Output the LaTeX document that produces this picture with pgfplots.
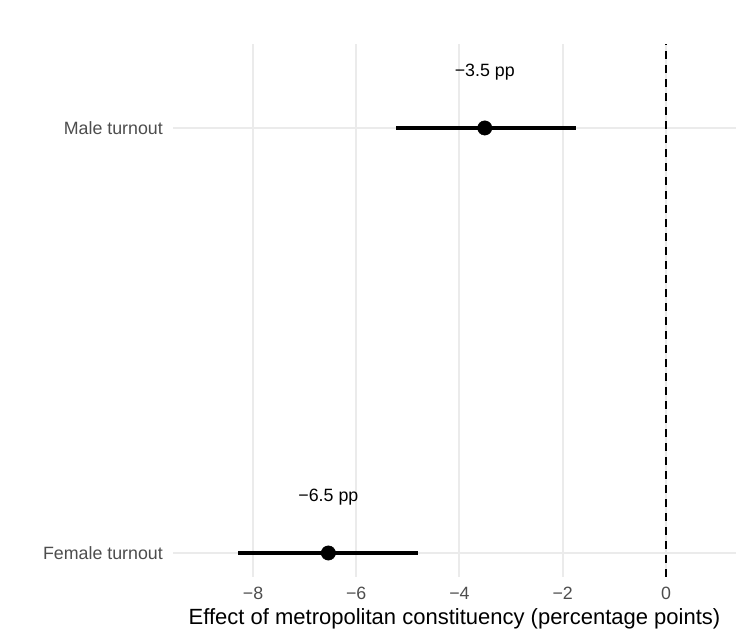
\documentclass[border=0pt]{standalone}
\usepackage{pgfplots}
\pgfplotsset{compat=1.18}
\usepackage{fontspec}
\setmainfont{Liberation Sans}
\definecolor{gridgray}{HTML}{EBEBEB}
\definecolor{ticktext}{HTML}{4D4D4D}
\begin{document}
\begin{tikzpicture}[x=1bp,y=1bp]
\useasboundingbox (0,0) rectangle (736,631);
\begin{axis}[
  at={(173bp,54bp)}, anchor=south west,
  scale only axis, width=563bp, height=533bp,
  xmin=-9.55, xmax=1.357, ymin=0.9435, ymax=2.1976,
  axis line style={draw=none},
  tick style={draw=none},
  xtick={-8,-6,-4,-2,0},
  xticklabels={−8,−6,−4,−2,0},
  ytick={1,2},
  yticklabels={Female turnout, Male turnout},
  grid=major,
  major grid style={gridgray, line width=2bp},
  xticklabel style={font=\fontsize{17.8bp}{20bp}\selectfont, text=ticktext, anchor=north, inner sep=0pt, yshift=-10bp},
  yticklabel style={font=\fontsize{17.8bp}{20bp}\selectfont, text=ticktext, anchor=east, inner sep=0pt, xshift=-10bp},
  xlabel={Effect of metropolitan constituency (percentage points)},
  xlabel style={font=\fontsize{22bp}{24bp}\selectfont, text=black, at={(axis description cs:0.5,0)}, anchor=base, inner sep=0pt, yshift=-48bp},
  clip=false,
]
\addplot[black, line width=4.3bp] coordinates {(-5.23,2) (-1.74,2)};
\addplot[black, line width=4.3bp] coordinates {(-8.29,1) (-4.81,1)};
\addplot[only marks, mark=*, mark size=7.2bp, black] coordinates {(-3.51,2) (-6.54,1)};
\addplot[black, line width=1.3bp, dash pattern=on 8bp off 6bp] coordinates {(0,0.9435) (0,2.1976)};
\node[anchor=base, font=\fontsize{17.8bp}{20bp}\selectfont, inner sep=0pt] at (axis cs:-3.51,2.122) {−3.5 pp};
\node[anchor=base, font=\fontsize{17.8bp}{20bp}\selectfont, inner sep=0pt] at (axis cs:-6.54,1.122) {−6.5 pp};
\end{axis}
\end{tikzpicture}
\end{document}
